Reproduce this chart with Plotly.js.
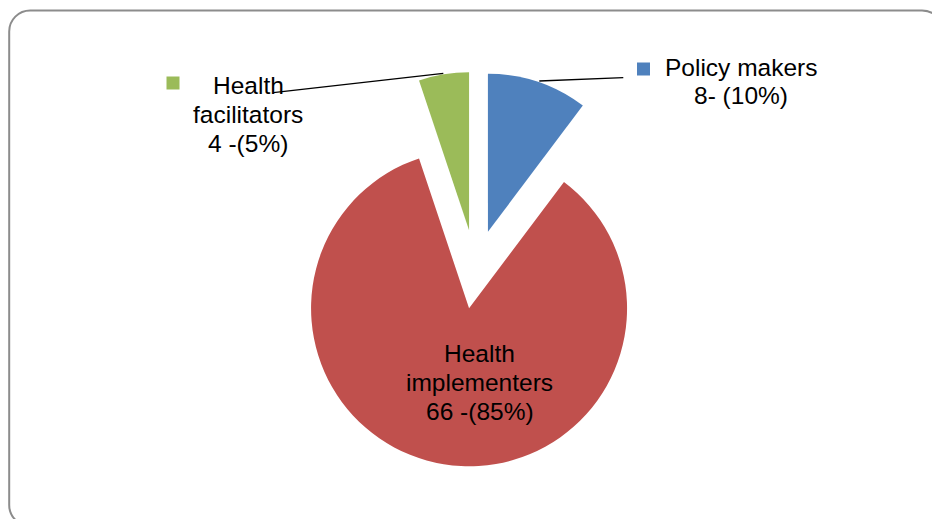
<!DOCTYPE html>
<html>
<head>
<meta charset="utf-8">
<script src="https://cdn.plot.ly/plotly-3.0.1.min.js"></script>
<style>
  html, body { margin: 0; padding: 0; background: #ffffff; }
  #chart { width: 932px; height: 519px; }
</style>
</head>
<body>
<div id="chart"></div>
<script>
// ---- Data ----
const categories = ['Policy makers', 'Health implementers', 'Health facilitators'];
const nameLines = [['Policy makers'], ['Health', 'implementers'], ['Health', 'facilitators']];
const counts = [8, 66, 4];
const valueLabels = ['8- (10%)', '66 -(85%)', '4 -(5%)'];
const sliceColors = ['#4F81BD', '#C0504D', '#9BBB59'];

// ---- Layout helpers (pixel -> paper) ----
const W = 932, H = 519;
const X = px => px / W;
const Y = py => 1 - py / H;

// pie box
const cx = 475.4, cy = 269.3, box = 395;
const domainX = [X(cx - box / 2), X(cx + box / 2)];
const domainY = [Y(cy + box / 2), Y(cy - box / 2)];

const trace = {
  type: 'pie',
  labels: categories,
  values: counts,
  sort: false,
  direction: 'clockwise',
  rotation: 0,
  pull: [0.25, 0.25, 0.25],
  marker: { colors: sliceColors, line: { width: 0 } },
  textinfo: 'none',
  hoverinfo: 'label+value+percent',
  showlegend: false,
  domain: { x: domainX, y: domainY }
};

const font = { family: 'Liberation Sans, Arial, sans-serif', size: 24.5, color: '#000000' };

// label block placement: center x, first line center y, line step
const labelPos = [
  { x: 741, y: 67.5, step: 27.6 },
  { x: 479.5, y: 353.5, step: 28.8 },
  { x: 248.5, y: 86, step: 28.5 }
];

const annotations = [];
categories.forEach((c, i) => {
  const lines = nameLines[i].concat([valueLabels[i]]);
  lines.forEach((t, j) => {
    annotations.push({
      xref: 'paper', yref: 'paper',
      x: X(labelPos[i].x), y: Y(labelPos[i].y + j * labelPos[i].step),
      xanchor: 'center', yanchor: 'middle',
      text: t, showarrow: false, align: 'center', font: font
    });
  });
});

// rounded border path
function roundedRect(l, t, r, b, rad) {
  const k = 0.5523 * rad;
  const p = (x, y) => X(x) + ',' + Y(y);
  return 'M' + p(l + rad, t) +
    ' L' + p(r - rad, t) +
    ' C' + p(r - rad + k, t) + ' ' + p(r, t + rad - k) + ' ' + p(r, t + rad) +
    ' L' + p(r, b - rad) +
    ' C' + p(r, b - rad + k) + ' ' + p(r - rad + k, b) + ' ' + p(r - rad, b) +
    ' L' + p(l + rad, b) +
    ' C' + p(l + rad - k, b) + ' ' + p(l, b - rad + k) + ' ' + p(l, b - rad) +
    ' L' + p(l, t + rad) +
    ' C' + p(l, t + rad - k) + ' ' + p(l + rad - k, t) + ' ' + p(l + rad, t) + ' Z';
}

const shapes = [
  { type: 'path', xref: 'paper', yref: 'paper', path: roundedRect(9.2, 10.5, 943, 526, 21),
    line: { color: '#8C8C8C', width: 2 }, fillcolor: 'rgba(0,0,0,0)', layer: 'below' },
  // leader lines
  { type: 'line', xref: 'paper', yref: 'paper', x0: X(273.3), y0: Y(92.7), x1: X(443.3), y1: Y(73.3),
    line: { color: '#000000', width: 1.3 } },
  { type: 'line', xref: 'paper', yref: 'paper', x0: X(539.3), y0: Y(81), x1: X(623.3), y1: Y(77.7),
    line: { color: '#000000', width: 1.3 } },
  // legend keys
  { type: 'rect', xref: 'paper', yref: 'paper', x0: X(637), y0: Y(62.5), x1: X(650), y1: Y(75.5),
    fillcolor: sliceColors[0], line: { width: 0 } },
  { type: 'rect', xref: 'paper', yref: 'paper', x0: X(166.5), y0: Y(76.5), x1: X(179.5), y1: Y(89.5),
    fillcolor: sliceColors[2], line: { width: 0 } }
];

const layout = {
  width: W, height: H,
  margin: { l: 0, r: 0, t: 0, b: 0 },
  paper_bgcolor: '#ffffff',
  plot_bgcolor: '#ffffff',
  showlegend: false,
  annotations: annotations,
  shapes: shapes
};

Plotly.newPlot('chart', [trace], layout, { displayModeBar: false, staticPlot: true });
</script>
</body>
</html>
